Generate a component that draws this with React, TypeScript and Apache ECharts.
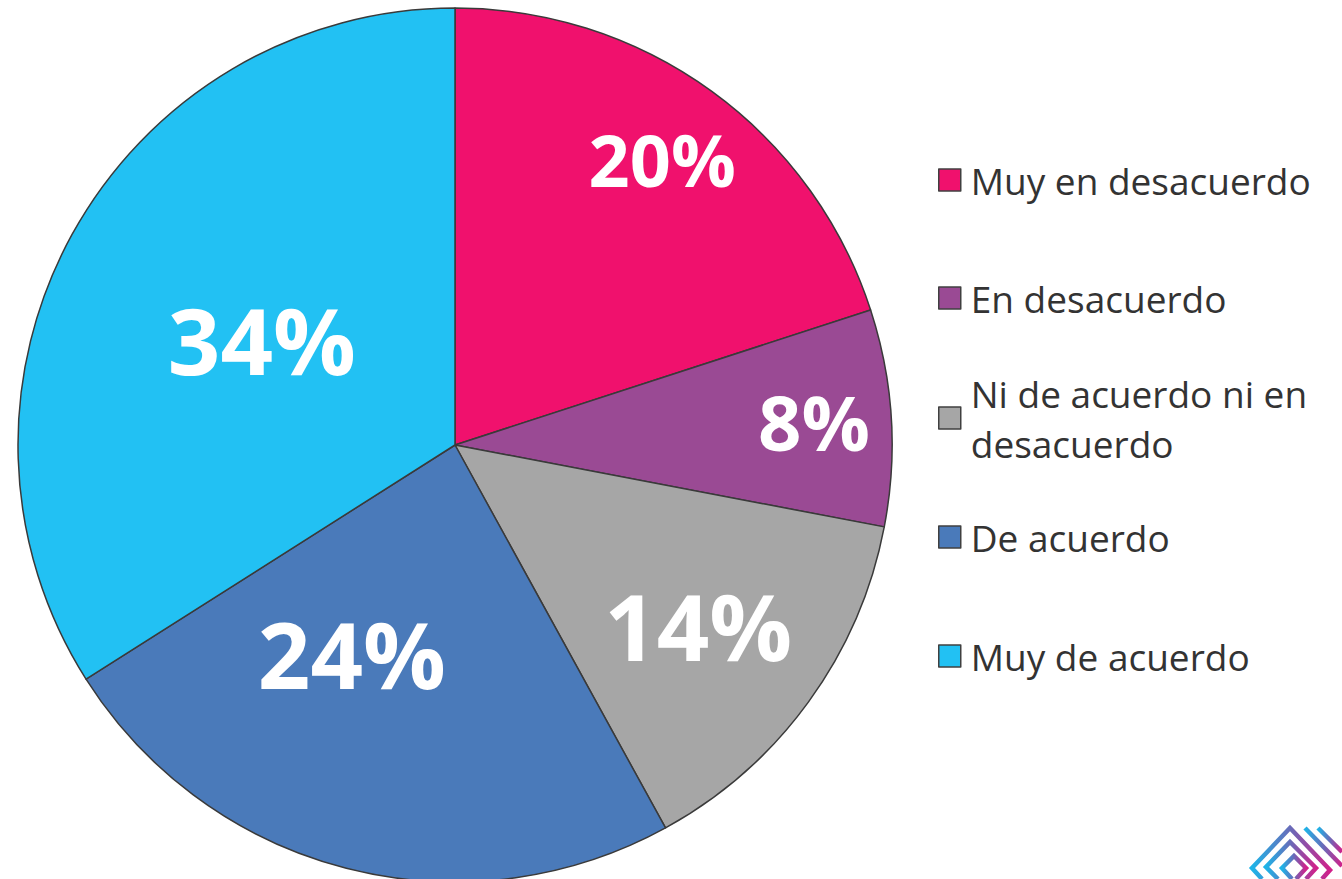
import React, { useEffect, useRef } from "react";
import * as echarts from "echarts";

const categories = [
  "Muy en desacuerdo",
  "En desacuerdo",
  "Ni de acuerdo ni en desacuerdo",
  "De acuerdo",
  "Muy de acuerdo",
];
const values = [20, 8, 14, 24, 34];
const colors = ["#F0116D", "#9A4A94", "#A6A6A6", "#4A7ABA", "#22C1F3"];
// label tuning (layout only)
const labelOffsets = [
  [77, -107],
  [138, -10],
  [64, 50],
  [-48, -6],
  [1, 1],
];
const labelSizes = [72, 76, 92, 92, 92];
const legendCenters = [180, 298, 418, 537, 656];

export default function App() {
  const ref = useRef<HTMLDivElement>(null);
  useEffect(() => {
    document.body.style.margin = "0";
    const chart = echarts.init(ref.current!, null, { renderer: "svg" });
    const LH = 50;
    const legends = categories.map((name, i) => {
      const twoLine = name === "Ni de acuerdo ni en desacuerdo";
      return {
        data: [name],
        left: 938,
        top: twoLine ? legendCenters[i] - 75 : legendCenters[i] - LH / 2,
        orient: "vertical",
        padding: 0,
        itemWidth: 22,
        itemHeight: 22,
        itemGap: 10,
        icon: "rect",
        selectedMode: false,
        formatter: twoLine ? () => "Ni de acuerdo ni en\ndesacuerdo" : undefined,
        itemStyle: { borderColor: "#404040", borderWidth: 1.5 },
        textStyle: {
          fontFamily: "Open Sans",
          fontSize: 37,
          color: "#333333",
          lineHeight: LH,
          padding: twoLine ? [LH, 0, 0, 5] : [0, 0, 0, 5],
        },
      };
    });
    const grad = new echarts.graphic.LinearGradient(0, 0, 1, 0, [
      { offset: 0, color: "#1EB4E8" },
      { offset: 0.5, color: "#6A6AB8" },
      { offset: 1, color: "#D1208A" },
    ]);
    const logoLines = [
      [[1262, 879], [1252, 868], [1290, 828], [1330, 870], [1322, 879]],
      [[1278, 879], [1266, 867], [1290, 842], [1316, 868], [1306, 879]],
      [[1292, 879], [1282, 868], [1294, 856], [1306, 868], [1296, 879]],
      [[1305, 828], [1342, 866]],
      [[1318, 828], [1342, 852]],
    ];
    chart.setOption({
      animation: false,
      legend: legends,
      series: [
        {
          type: "pie",
          center: [455, 445],
          radius: 437,
          startAngle: 90,
          clockwise: true,
          avoidLabelOverlap: false,
          itemStyle: { borderColor: "#3a3a3a", borderWidth: 1.5 },
          label: {
            show: true,
            position: "inside",
            formatter: "{c}%",
            color: "#FFFFFF",
            fontFamily: "Open Sans",
            fontWeight: "bold",
          },
          labelLine: { show: false },
          emphasis: { disabled: true },
          data: categories.map((name, i) => ({
            name,
            value: values[i],
            itemStyle: { color: colors[i] },
            label: { offset: labelOffsets[i], fontSize: labelSizes[i] },
          })),
        },
      ],
      graphic: logoLines.map((pts) => ({
        type: "polyline",
        shape: { points: pts },
        style: { stroke: grad, lineWidth: 4.5, fill: null },
        silent: true,
      })),
    });
    return () => chart.dispose();
  }, []);
  return (
    <div
      ref={ref}
      style={{ position: "absolute", left: 0, top: 0, width: 1342, height: 879, background: "#fff" }}
    />
  );
}
